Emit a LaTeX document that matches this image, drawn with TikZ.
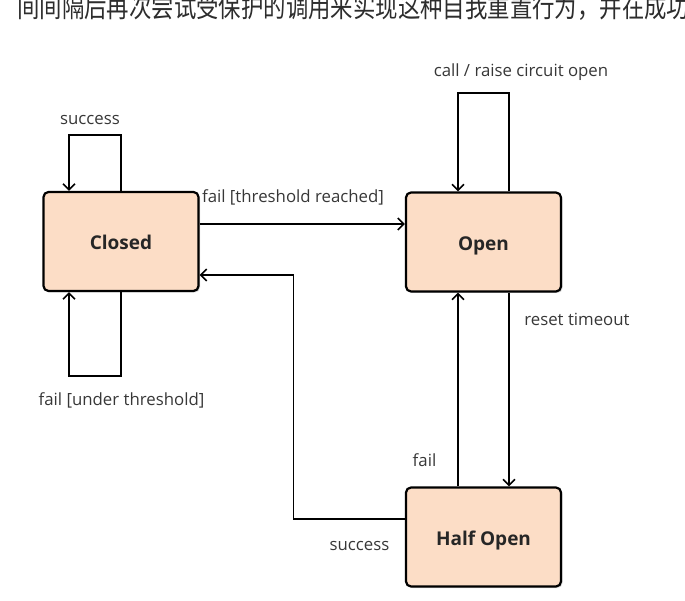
\documentclass[tikz,border=0pt]{standalone}
\usepackage{fontspec}
\setmainfont{Open Sans}
\newfontfamily\cjk{Noto Sans CJK SC}
\usetikzlibrary{arrows.meta,shadows}
\definecolor{boxfill}{RGB}{252,221,198}
\definecolor{labelgray}{RGB}{55,55,55}
\definecolor{topgray}{RGB}{45,45,45}
\begin{document}
\begin{tikzpicture}[x=1pt,y=-1pt,
  state/.style={draw=black, line width=2.2pt, rounded corners=5pt, fill=boxfill,
    minimum width=155pt, minimum height=99pt, inner sep=0pt,
    text height=20pt, text depth=3pt,
    font=\bfseries\fontsize{19}{22}\selectfont, text=black!85,
    drop shadow={shadow xshift=1.5pt, shadow yshift=-1.5pt, opacity=0.3}},
  conn/.style={line width=1.6pt, sharp corners,
    -{Straight Barb[length=6pt,width=12pt,line width=1.6pt]}},
  lbl/.style={font=\fontsize{16.8}{19}\selectfont, text=labelgray, inner sep=0pt, anchor=base}]
\useasboundingbox (0,0) rectangle (685,601);
\begin{scope}
\clip (0,0) rectangle (685,601);
\node[anchor=base west, inner sep=0pt, text=topgray, font=\cjk\fontsize{22.4}{24}\selectfont] (top) at (17,17.6) {\scalebox{1}[1.25]{间间隔后再次尝试受保护的调用来实现这种自我重置行为，并在成功}};
\end{scope}

\node[state] (closed) at (121,241.5) {Closed};
\node[state] (open) at (483.5,242) {Open};
\node[state] (half) at (483.5,537) {Half Open};

% Closed self loops
\draw[conn] (closed.north) -- ++(0,-56) -| ([xshift=-52pt]closed.north);
\draw[conn] (closed.south) -- ++(0,84) -| ([xshift=-52pt]closed.south);
% Open self loop
\draw[conn] ([xshift=25.5pt]open.north) -- ++(0,-98.5) -| ([xshift=-25.5pt]open.north);
% Closed -> Open
\coordinate (c1) at ([yshift=17.5pt]closed.east);
\draw[conn] (c1) -- (c1 -| open.west);
% Half Open -> Closed
\coordinate (ret) at ([yshift=-33.5pt]closed.east);
\draw[conn] ([yshift=18pt]half.west) -| ([xshift=94pt]ret) -- (ret);
% Half Open -> Open
\draw[conn] ([xshift=-25.5pt]half.north) -- ([xshift=-25.5pt]open.south);
% Open -> Half Open
\draw[conn] ([xshift=25.5pt]open.south) -- ([xshift=25.5pt]half.north);

% labels
\node[lbl] (l1) at (90,125) {success};
\node[lbl] (l2) at (121.5,405) {fail [under threshold]};
\node[lbl] (l3) at (521,77) {call / raise circuit open};
\node[lbl] (l4) at (293,203) {fail [threshold reached]};
\node[lbl] (l5) at (577,326) {reset timeout};
\node[lbl] (l6) at (424.5,466) {fail};
\node[lbl] (l7) at (359.5,550) {success};
\end{tikzpicture}
\end{document}
